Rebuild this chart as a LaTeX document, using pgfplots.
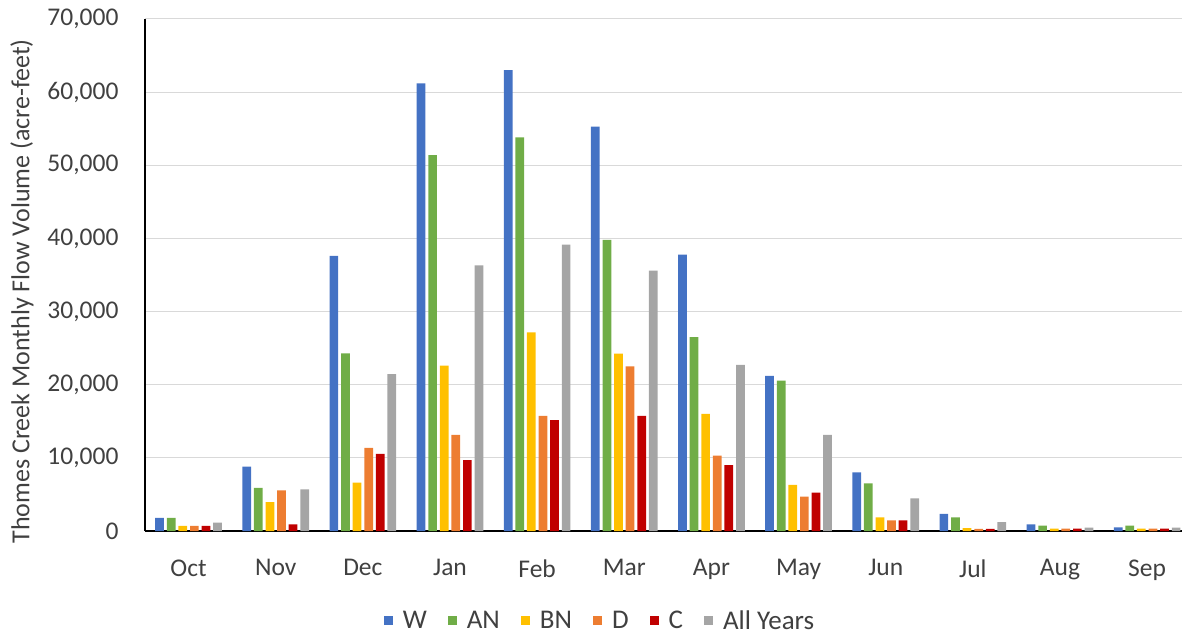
\documentclass[border=0pt]{standalone}
\usepackage{pgfplots}
\pgfplotsset{compat=1.18}
\usepackage{pgfplotstable}
\usepackage{fontspec}
\setmainfont{Carlito}

\definecolor{cW}{HTML}{4472C4}
\definecolor{cAN}{HTML}{70AD47}
\definecolor{cBN}{HTML}{FFC000}
\definecolor{cD}{HTML}{ED7D31}
\definecolor{cC}{HTML}{C00000}
\definecolor{cAll}{HTML}{A5A5A5}
\definecolor{gridgray}{HTML}{D9D9D9}
\definecolor{labeltext}{HTML}{404040}

% Monthly flow volume (acre-feet) by water year type
\pgfplotstableread{
idx W     AN    BN    D     C     All
0   1800  1800  700   700   700   1150
1   8800  5900  3950  5550  900   5700
2   37600 24300 6600  11350 10550 21450
3   61200 51400 22600 13150 9700  36300
4   63000 53800 27150 15750 15150 39150
5   55300 39800 24250 22500 15750 35600
6   37800 26500 16000 10300 9000  22700
7   21200 20550 6300  4700  5250  13150
8   8000  6500  1870  1460  1460  4470
9   2330  1870  400   300   300   1230
10  900   730   320   320   320   450
11  500   730   320   320   320   450
}\flowdata

\begin{document}
\begin{tikzpicture}
\begin{axis}[
  scale only axis,
  width=1037pt, height=512pt,
  xmin=-0.5, xmax=11.4,
  ymin=0, ymax=70000,
  ytick={0,10000,...,70000},
  xtick={0,...,11},
  xticklabels={Oct,Nov,Dec,Jan,Feb,Mar,Apr,May,Jun,Jul,Aug,Sep},
  scaled y ticks=false,
  /pgf/number format/fixed,
  /pgf/number format/1000 sep={,},
  /pgf/number format/assume math mode=true,
  tick label style={font=\fontsize{25.5}{30}\selectfont, text=labeltext},
  yticklabel style={xshift=-23pt},
  xticklabel style={yshift=-25pt},
  major tick length=0pt,
  axis x line*=bottom, axis y line*=left,
  axis line style={-, black, line width=1.3pt},
  ymajorgrids, grid style={gridgray, line width=1pt},
  ylabel={Thomes Creek Monthly Flow Volume (acre-feet)},
  ylabel style={font=\fontsize{26}{30}\selectfont, text=labeltext,
    at={(axis description cs:-0.1186,0.468)}, anchor=center},
  ybar, bar width=0.1,
  legend columns=-1,
  legend style={at={(0.4388,-0.175)}, anchor=center, draw=none,
    inner ysep=0pt, nodes={inner ysep=0pt},
    font=\fontsize{27}{32}\selectfont, text=labeltext,
    /tikz/every even column/.style={column sep=19pt},
    /tikz/every odd column/.style={column sep=8pt}},
  legend image code/.code={\fill[#1] (0pt,-4.5pt) rectangle (9pt,4.5pt);},
]
\addplot[fill=cW, draw=none, bar shift=-0.3325] table[x=idx, y=W] {\flowdata};
\addplot[fill=cAN, draw=none, bar shift=-0.1995] table[x=idx, y=AN] {\flowdata};
\addplot[fill=cBN, draw=none, bar shift=-0.0665] table[x=idx, y=BN] {\flowdata};
\addplot[fill=cD, draw=none, bar shift=0.0665] table[x=idx, y=D] {\flowdata};
\addplot[fill=cC, draw=none, bar shift=0.1995] table[x=idx, y=C] {\flowdata};
\addplot[fill=cAll, draw=none, bar shift=0.3325] table[x=idx, y=All] {\flowdata};
\legend{W,AN,BN,D,C,All Years}
\end{axis}
\pgfresetboundingbox
\path ([shift={(-145pt,-104pt)}]current axis.south west) rectangle ([shift={(0pt,19pt)}]current axis.north east);
\end{tikzpicture}
\end{document}
